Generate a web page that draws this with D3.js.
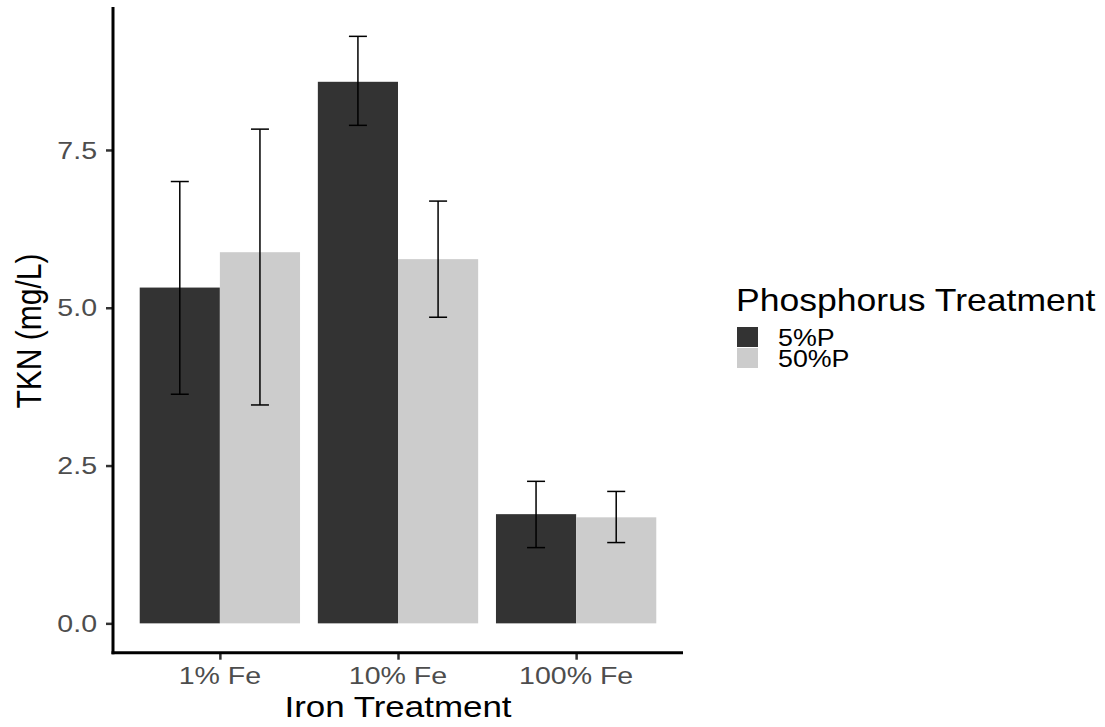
<!DOCTYPE html>
<html>
<head>
<meta charset="utf-8">
<script src="https://cdn.jsdelivr.net/npm/d3@7"></script>
<style>
  body { margin: 0; background: #fff; }
  text { font-family: "Liberation Sans", Arial, Helvetica, sans-serif; }
</style>
</head>
<body>
<svg id="chart" width="1105" height="727"></svg>
<script>
// data
var ironLevels = ["1% Fe", "10% Fe", "100% Fe"];
var phosLevels = ["5%P", "50%P"];
var meanFivePct  = [5.32, 8.58, 1.73];
var meanFiftyPct = [5.88, 5.77, 1.68];
var lowFivePct   = [3.63, 7.89, 1.20];
var highFivePct  = [7.00, 9.30, 2.25];
var lowFiftyPct  = [3.46, 4.85, 1.28];
var highFiftyPct = [7.83, 6.69, 2.09];
var yTicks = [0, 2.5, 5, 7.5];

var rows = [];
ironLevels.forEach(function(fe, i) {
  rows.push({iron: fe, phos: "5%P", mean: meanFivePct[i], lo: lowFivePct[i], hi: highFivePct[i]});
  rows.push({iron: fe, phos: "50%P", mean: meanFiftyPct[i], lo: lowFiftyPct[i], hi: highFiftyPct[i]});
});

var SX = 1.165; // the picture is a bit wider than tall, text too
var plotLeft = 113, plotRight = 683, plotTop = 7, plotBottom = 652.7;

var svg = d3.select("#chart");

var x = d3.scalePoint().domain(ironLevels).range([plotLeft, plotRight]).padding(0.6);
var barW = x.step() * 0.9;
var xSub = d3.scaleBand().domain(phosLevels).range([-barW / 2, barW / 2]);

var ymax = d3.max(rows, function(d) { return d.hi; });
var pad = ymax * 0.05;
var y = d3.scaleLinear().domain([-pad, ymax + pad]).range([plotBottom, plotTop]);

var fill = d3.scaleOrdinal().domain(phosLevels).range(["#333333", "#cccccc"]);

// helper: stretched text
function label(g, tx, ty, str, opts) {
  var t = g.append("g")
    .attr("transform", "translate(" + tx + "," + ty + ") scale(" + SX + ",1)" + (opts.rotate ? " rotate(" + opts.rotate + ")" : ""))
    .append("text")
    .attr("text-anchor", opts.anchor || "start")
    .attr("font-size", opts.size + "px")
    .attr("fill", opts.color || "#000")
    .text(str);
  return t;
}

// bars
svg.append("g").selectAll("rect")
  .data(rows)
  .enter()
  .append("rect")
    .attr("x", function(d) { return x(d.iron) + xSub(d.phos); })
    .attr("y", function(d) { return y(d.mean); })
    .attr("width", xSub.bandwidth())
    .attr("height", function(d) { return y(0) - y(d.mean); })
    .attr("fill", function(d) { return fill(d.phos); });

// error bars
var eb = svg.append("g").attr("stroke", "#000").attr("stroke-width", 1.5).attr("fill", "none");
var capHalf = 9;
rows.forEach(function(d) {
  var cx = x(d.iron) + xSub(d.phos) + xSub.bandwidth() / 2;
  eb.append("line").attr("x1", cx).attr("x2", cx).attr("y1", y(d.lo)).attr("y2", y(d.hi));
  eb.append("line").attr("x1", cx - capHalf).attr("x2", cx + capHalf).attr("y1", y(d.lo)).attr("y2", y(d.lo));
  eb.append("line").attr("x1", cx - capHalf).attr("x2", cx + capHalf).attr("y1", y(d.hi)).attr("y2", y(d.hi));
});

// axes
var yAxis = svg.append("g")
  .attr("transform", "translate(" + plotLeft + ",0)")
  .call(d3.axisLeft(y).tickValues(yTicks).tickSize(7).tickFormat(""));
yAxis.select(".domain").remove();
yAxis.selectAll(".tick line").attr("stroke", "#333").attr("stroke-width", 2.5);

var xAxis = svg.append("g")
  .attr("transform", "translate(0," + plotBottom + ")")
  .call(d3.axisBottom(x).tickSize(7).tickFormat(""));
xAxis.select(".domain").remove();
xAxis.selectAll(".tick line").attr("stroke", "#333").attr("stroke-width", 2.5);

svg.append("line").attr("x1", plotLeft).attr("x2", plotLeft).attr("y1", plotTop).attr("y2", plotBottom + 1.5)
  .attr("stroke", "#000").attr("stroke-width", 3);
svg.append("line").attr("x1", plotLeft - 1.5).attr("x2", plotRight).attr("y1", plotBottom).attr("y2", plotBottom)
  .attr("stroke", "#000").attr("stroke-width", 3);

// tick labels
yTicks.forEach(function(v) {
  label(svg, 97, y(v) + 8.6, d3.format(".1f")(v), {anchor: "end", size: 24.5, color: "#4d4d4d"});
});
ironLevels.forEach(function(fe) {
  label(svg, x(fe), 684, fe, {anchor: "middle", size: 24.5, color: "#4d4d4d"});
});

// axis titles
label(svg, (plotLeft + plotRight) / 2, 717, "Iron Treatment", {anchor: "middle", size: 30});
label(svg, 41, 331, "TKN (mg/L)", {anchor: "middle", size: 30, rotate: -90});

// legend
var lg = svg.append("g");
label(lg, 736, 311, "Phosphorus Treatment", {anchor: "start", size: 30.5});
phosLevels.forEach(function(p, i) {
  lg.append("rect")
    .attr("x", 737).attr("y", 327 + i * 21)
    .attr("width", 21).attr("height", 20)
    .attr("fill", fill(p));
  label(lg, 778, 345.5 + i * 21.5, p, {anchor: "start", size: 23});
});
</script>
</body>
</html>
